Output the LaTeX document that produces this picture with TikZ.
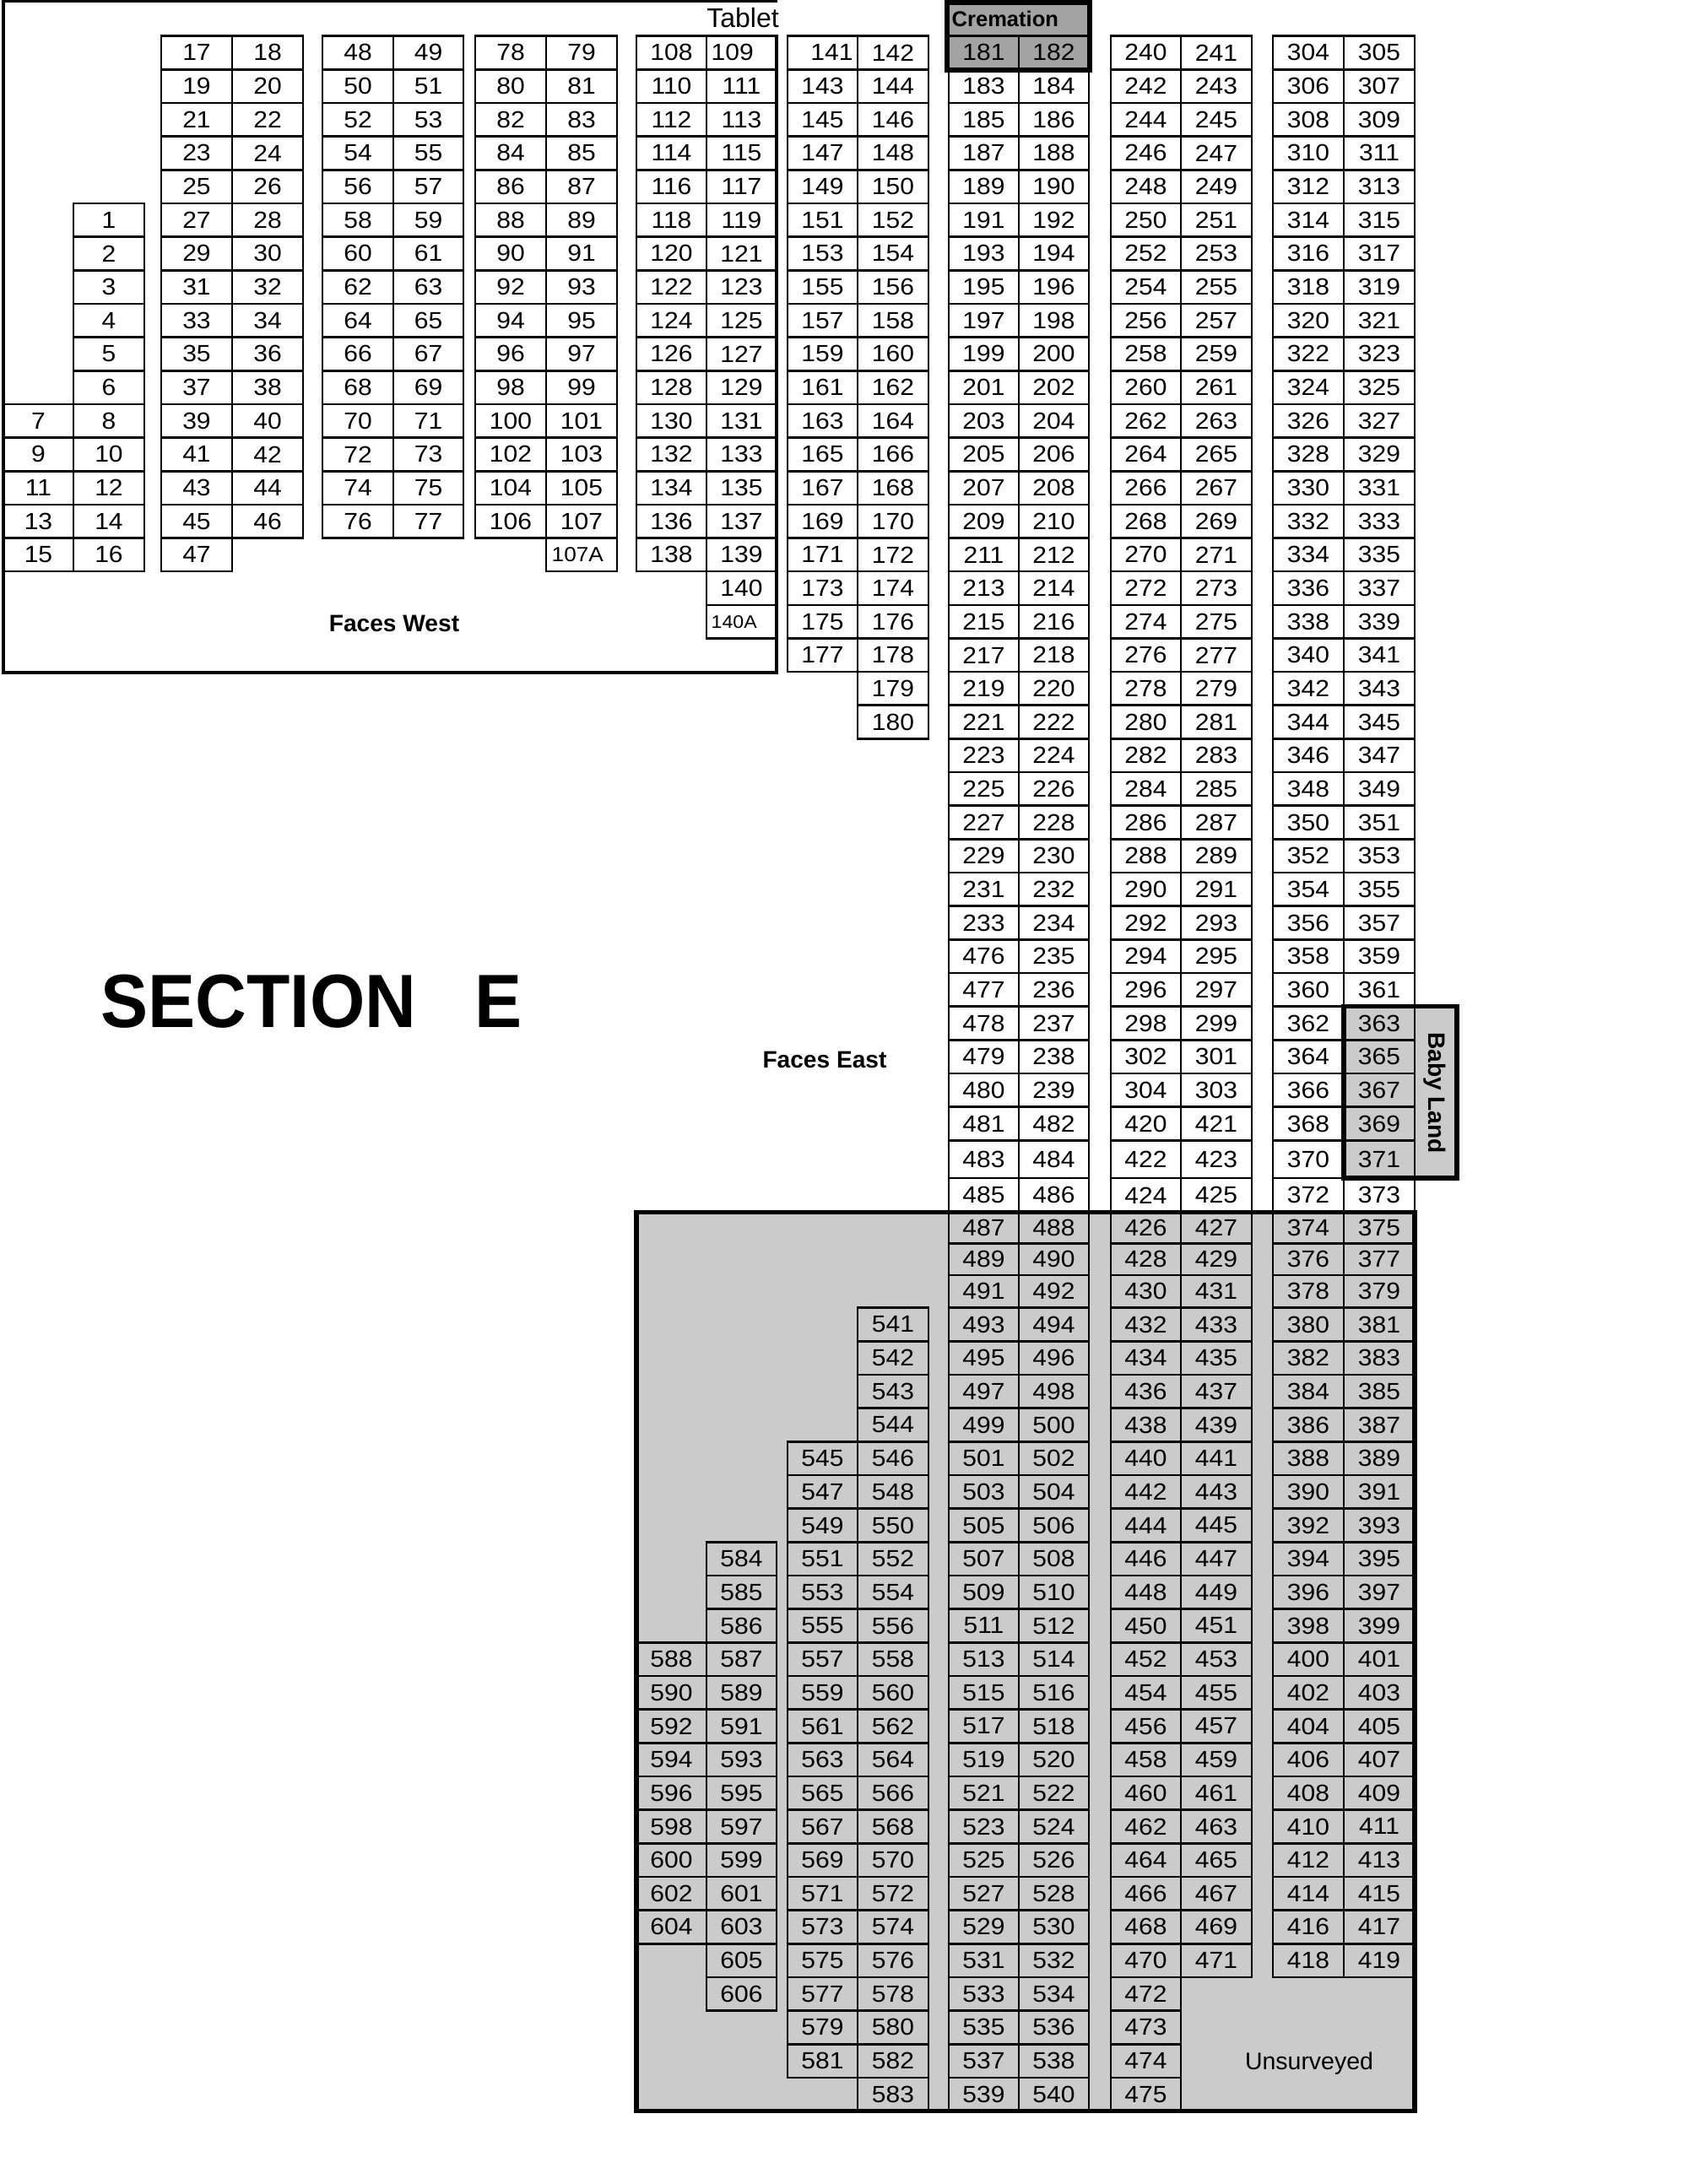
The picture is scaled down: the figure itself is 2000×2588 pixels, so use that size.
\documentclass[tikz,border=0pt]{standalone}
\usepackage{graphicx}
\usepackage{fontspec}
\setmainfont{Liberation Sans}
\newfontfamily\numfont[FakeStretch=1.08]{Liberation Sans}
\definecolor{lightg}{RGB}{203,203,203}
\definecolor{darkg}{RGB}{163,163,163}
% column edges (px)
\newcommand\defcol[3]{\expandafter\def\csname cl#1\endcsname{#2}\expandafter\def\csname cr#1\endcsname{#3}}
\defcol{A}{4}{87}
\defcol{B}{87}{171}
\defcol{C}{191}{275}
\defcol{D}{275}{359}
\defcol{E}{382}{466}
\defcol{F}{466}{549}
\defcol{G}{563}{647}
\defcol{H}{647}{731}
\defcol{I}{754}{837}
\defcol{J}{837}{920}
\defcol{K}{933}{1016}
\defcol{L}{1016}{1100}
\defcol{M}{1124}{1207}
\defcol{N}{1207}{1290}
\defcol{O}{1316}{1399}
\defcol{P}{1399}{1483}
\defcol{Q}{1508}{1592}
\defcol{R}{1592}{1676}
% row top (px), with the small irregularity around rows 34-37
\pgfmathdeclarefunction{rtop}{1}{%
  \pgfmathparse{42.6+39.66*#1+(#1==34)*5+(#1==35)*6+(#1==36)*3+(#1==37)*1}}
% one plot cell: [node options]{column}{row}{label}
\newcommand\cellat[4][]{%
  \edef\cxa{\csname cl#2\endcsname}%
  \edef\cxb{\csname cr#2\endcsname}%
  \pgfmathsetmacro\cya{rtop(#3)}%
  \pgfmathsetmacro\cyb{rtop(#3+1)}%
  \pgfmathsetmacro\cxm{(\cxa+\cxb)/2}%
  \pgfmathsetmacro\cym{(\cya+\cyb)/2}%
  \draw[cellline] (\cxa,\cya) rectangle (\cxb,\cyb);
  \node[num,#1] (#2#3) at (\cxm,\cym) {#4};
}
\newcommand\pairs[5]{%
  \foreach \k in {#3,...,#4} {%
    \pgfmathtruncatemacro\lab{#5+2*(\k-#3)}%
    \pgfmathtruncatemacro\labb{\lab+1}%
    \cellat{#1}{\k}{\lab}\cellat{#2}{\k}{\labb}}}
\newcommand\singles[5]{%
  \foreach \k in {#2,...,#3} {%
    \pgfmathtruncatemacro\lab{#4+#5*(\k-#2)}%
    \cellat{#1}{\k}{\lab}}}
\begin{document}
\begin{tikzpicture}[x=0.01cm,y=-0.01cm,
  cellline/.style={line width=0.75pt},
  heavy/.style={line width=1.55pt},
  framel/.style={line width=0.9pt},
  num/.style={inner sep=0pt,font=\numfont\fontsize{7.9}{9}\selectfont},
  lbl/.style={inner sep=0pt}]
\fill[white] (0,0) rectangle (2000,2588);
\useasboundingbox (0,0) rectangle (2000,2588);
% shaded areas
\fill[lightg] (754,1436.7) rectangle (1676,2501.5);
\fill[lightg] (1592,1192.7) rectangle (1726,1396);
\fill[darkg] (1122,2.8) rectangle (1291,83);
% west-facing area
\singles{A}{11}{15}{7}{2}
\singles{B}{5}{10}{1}{1}
\singles{B}{11}{15}{8}{2}
\pairs{C}{D}{0}{14}{17}
\cellat{C}{15}{47}
\pairs{E}{F}{0}{14}{48}
\pairs{G}{H}{0}{14}{78}
\cellat[anchor=west,xshift=-0.36cm,font=\numfont\fontsize{6.9}{8}\selectfont]{H}{15}{107A}
\cellat{I}{0}{108}
\cellat[anchor=west,xshift=-0.365cm]{J}{0}{109}
\pairs{I}{J}{1}{15}{110}
\cellat{J}{16}{140}
\cellat[anchor=west,xshift=-0.365cm,font=\numfont\fontsize{6.1}{7}\selectfont]{J}{17}{140A}
\cellat[xshift=0.11cm]{K}{0}{141}
\cellat{L}{0}{142}
\pairs{K}{L}{1}{18}{143}
\singles{L}{19}{20}{179}{1}
% east-facing columns
\cellat{M}{0}{181}
\cellat{N}{0}{182}
\pairs{M}{N}{1}{26}{183}
\singles{M}{27}{31}{476}{1}
\singles{N}{27}{31}{235}{1}
\pairs{M}{N}{32}{61}{481}
\pairs{O}{P}{0}{28}{240}
\cellat{O}{29}{298}\cellat{P}{29}{299}
\cellat{O}{30}{302}\cellat{P}{30}{301}
\cellat{O}{31}{304}\cellat{P}{31}{303}
\pairs{O}{P}{32}{57}{420}
\singles{O}{58}{61}{472}{1}
\pairs{Q}{R}{0}{57}{304}
% lower shaded block
\singles{L}{38}{41}{541}{1}
\pairs{K}{L}{42}{60}{545}
\cellat{L}{61}{583}
\singles{J}{45}{47}{584}{1}
\singles{J}{48}{57}{587}{2}
\cellat{J}{58}{606}
\singles{I}{48}{56}{588}{2}
% outlines
\draw[framel] (920,41) -- (920,797) -- (4,797) -- (4,1.7) -- (921,1.7);
\draw[heavy] (754,1436.7) rectangle (1676,2501.5);
\draw[heavy] (1592,1192.7) rectangle (1726,1396);
\draw[heavy] (1122,2.8) rectangle (1291,83);
% labels
\node[lbl,font=\fontsize{9.1}{11}\selectfont,anchor=base] (tablet) at (880,33) {Tablet};
\node[lbl,font=\bfseries\fontsize{7.26}{9}\selectfont,anchor=base west] (crem) at (1127,32) {Cremation};
\node[lbl,font=\bfseries\fontsize{8}{10}\selectfont,anchor=base] (facesw) at (467,748) {Faces West};
\node[lbl,font=\bfseries\fontsize{8}{10}\selectfont,anchor=base] (facese) at (977,1265) {Faces East};
\node[lbl,font=\bfseries\fontsize{8}{10}\selectfont,rotate=-90] (baby) at (1700,1295) {Baby Land};
\node[lbl,font=\fontsize{8.1}{10}\selectfont,anchor=base] (unsurv) at (1551,2452) {Unsurveyed};
\node[lbl,font=\bfseries\fontsize{23.9}{28}\selectfont,anchor=base west] (section) at (119,1217) {\scalebox{1}[1.065]{SECTION\hspace{0.69cm}E}};
\end{tikzpicture}
\end{document}
